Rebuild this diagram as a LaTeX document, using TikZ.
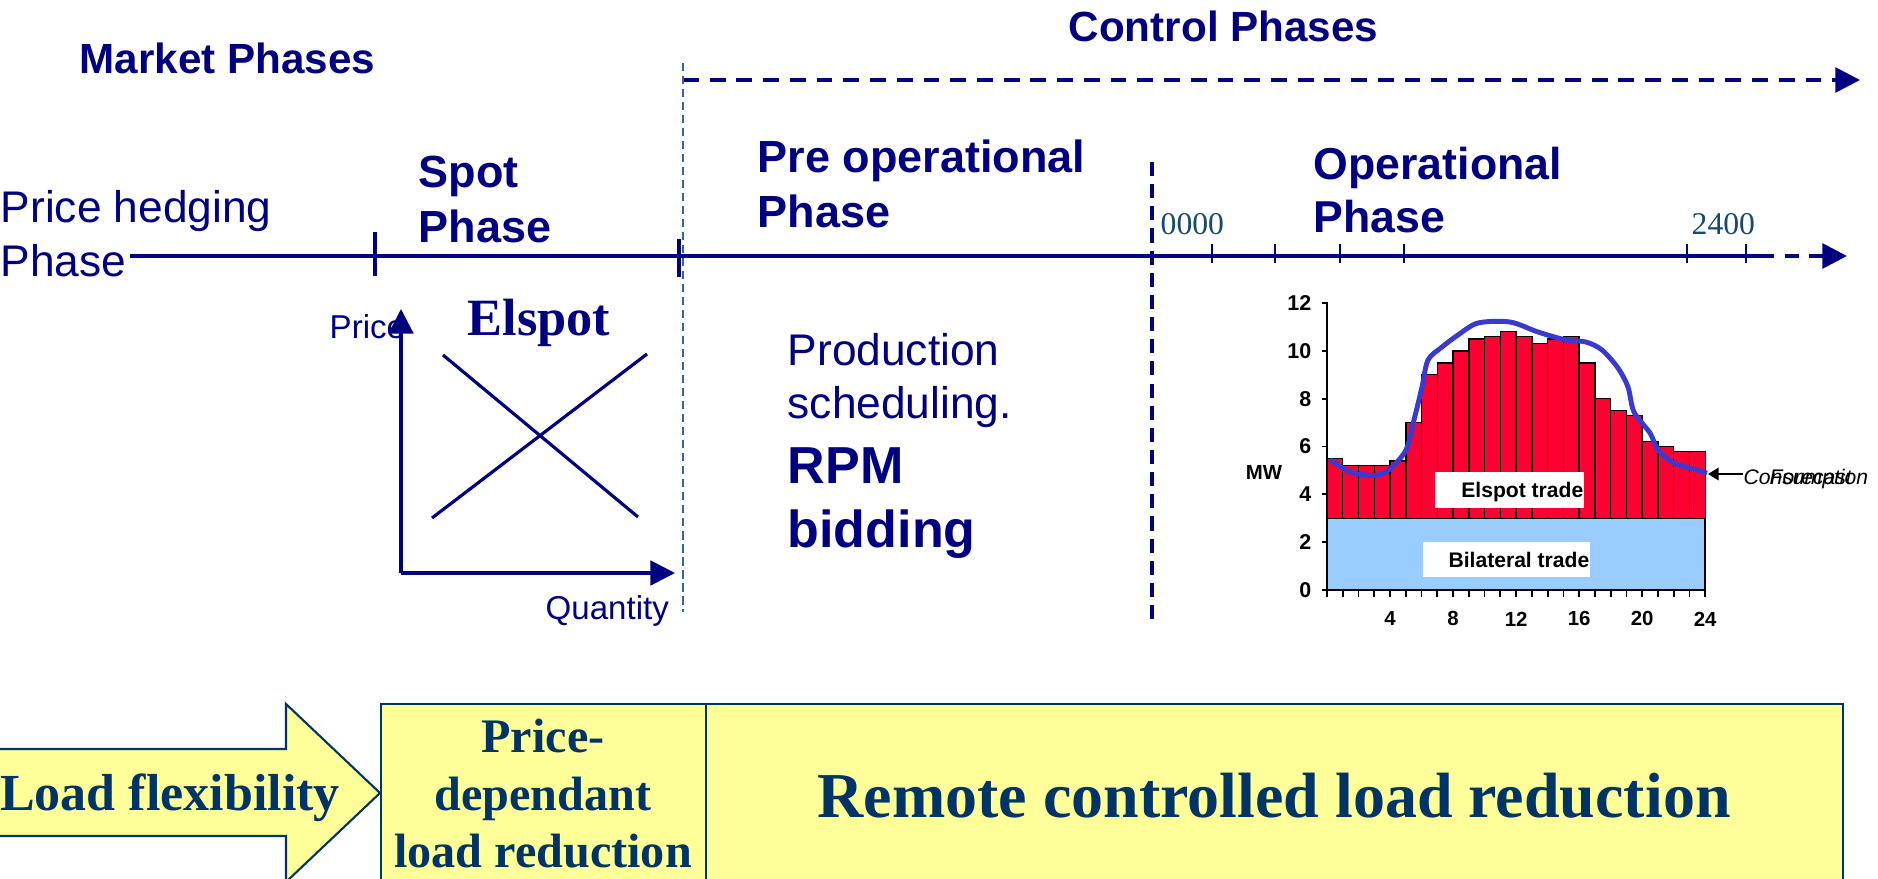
\documentclass[tikz,border=0pt]{standalone}
\usepackage{fontspec}
\setmainfont{Liberation Serif}
\setsansfont{Liberation Sans}
\usetikzlibrary{arrows.meta}
\definecolor{navy}{RGB}{0,0,128}
\definecolor{steel}{RGB}{51,102,153}
\definecolor{hourteal}{RGB}{23,72,110}
\definecolor{deepblue}{RGB}{0,51,102}
\definecolor{paleyellow}{RGB}{255,255,153}
\definecolor{spotred}{RGB}{255,0,51}
\definecolor{bilateral}{RGB}{153,204,255}
\definecolor{loadcurve}{RGB}{58,58,207}
\tikzset{
  phasehead/.style={font=\sffamily\bfseries\fontsize{12.8}{15}\selectfont, text=navy, inner sep=0pt, anchor=base west},
  phaseplain/.style={font=\sffamily\fontsize{12.6}{15}\selectfont, text=navy, inner sep=0pt, anchor=base west},
  hourlabel/.style={font=\fontsize{9}{11}\selectfont, text=hourteal, inner sep=0pt, anchor=base west},
  chartnum/.style={font=\sffamily\bfseries\fontsize{5.8}{7}\selectfont, inner sep=0pt},
  reduction/.style={font=\bfseries\fontsize{13.7}{16}\selectfont, text=deepblue, inner sep=0pt, anchor=base},
  timeline/.style={navy, line width=1.1pt},
  yellowbox/.style={draw=deepblue, fill=paleyellow, line width=0.6pt},
  bigtip/.style={-{Triangle[length=7pt, width=7pt]}}
}
\begin{document}
\begin{tikzpicture}[x=0.01cm, y=-0.01cm]
\useasboundingbox (0,0) rectangle (1878,879);

\node[phasehead, font=\sffamily\bfseries\fontsize{12}{14}\selectfont] (market) at (79,74) {Market Phases};
\node[phasehead, font=\sffamily\bfseries\fontsize{12}{14}\selectfont] (control) at (1068,42) {Control Phases};

\coordinate (ctrlstart) at (683,80);
\coordinate (ctrlend) at (1860,80);
\draw[timeline, dash pattern=on 4.5pt off 3.1pt, bigtip] (ctrlstart) -- (ctrlend);
\coordinate (splittop) at (683,63);
\coordinate (splitbot) at (683,612);
\draw[steel, line width=0.5pt, dash pattern=on 2.3pt off 1.4pt] (splittop) -- (splitbot);
\coordinate (daytop) at (1152,162);
\coordinate (daybot) at (1152,627);
\draw[navy, line width=1.1pt, dash pattern=on 4pt off 2.3pt] (daytop) -- (daybot);

\node[phaseplain] (hedge1) at (0,223) {Price hedging};
\node[phaseplain] (hedge2) at (0,277) {Phase};
\node[phasehead] (spot1) at (418,188) {Spot};
\node[phasehead] (spot2) at (418,243) {Phase};
\node[phasehead] (pre1) at (757,173) {Pre operational};
\node[phasehead] (pre2) at (757,228) {Phase};
\node[phasehead, font=\sffamily\bfseries\fontsize{12.7}{15}\selectfont] (op1) at (1313,180) {Operational};
\node[phasehead, font=\sffamily\bfseries\fontsize{12.7}{15}\selectfont] (op2) at (1313,233) {Phase};
\node[hourlabel] (hour0) at (1160,235) {0000};
\node[hourlabel] (hour24) at (1691,235) {2400};

\coordinate (tlstart) at (130,256);
\coordinate (tlsolid) at (1760,256);
\coordinate (tlend) at (1847,256);
\draw[timeline] (tlstart) -- (tlsolid);
\draw[timeline, dash pattern=on 4pt off 3pt, bigtip] (tlsolid) -- (tlend);
\draw[navy, line width=0.9pt] (375,232) -- (375,276);
\draw[navy, line width=0.9pt] (679,239) -- (679,277);
\foreach \t in {1212,1275,1340,1404,1687,1746}
  \draw[navy, line width=0.4pt] (\t,244) -- (\t,263);

\node[phaseplain, font=\sffamily\fontsize{9.4}{11}\selectfont] (price) at (329,339) {Price};
\node[phaseplain, font=\sffamily\fontsize{9.4}{11}\selectfont] (qty) at (545,619) {Quantity};
\node[phaseplain, font=\bfseries\fontsize{14.9}{17}\selectfont] (elspot) at (467,335) {Elspot};
\coordinate (origin) at (401,573);
\coordinate (ptip) at (401,309);
\coordinate (qtip) at (675,573);
\draw[navy, line width=0.9pt, bigtip] (origin) -- (ptip);
\draw[navy, line width=0.9pt, bigtip] (origin) -- (qtip);
\coordinate (demandtop) at (443,355);
\coordinate (demandbot) at (638,517);
\coordinate (supplybot) at (432,518);
\coordinate (supplytop) at (647,354);
\draw[navy, line width=0.9pt] (demandtop) -- (demandbot);
\draw[navy, line width=0.9pt] (supplybot) -- (supplytop);

\node[phaseplain] (prod1) at (787,366) {Production};
\node[phaseplain] (prod2) at (787,418) {scheduling.};
\node[phasehead, font=\sffamily\bfseries\fontsize{14.8}{17}\selectfont] (rpm1) at (787,483) {RPM};
\node[phasehead, font=\sffamily\bfseries\fontsize{14.8}{17}\selectfont] (rpm2) at (787,547) {bidding};

\begin{scope}[shift={(1327,590)}, x=0.1575cm, y=0.239cm]
  \draw[fill=bilateral, line width=0.5pt] (0,0) rectangle (24,3);
  \foreach \v [count=\h] in {5.5,5.2,5.2,5.2,5.4,7.0,9.0,9.5,10.0,10.5,10.6,10.8,10.6,10.3,10.5,10.6,9.5,8.0,7.5,7.3,6.2,6.0,5.8,5.8}
    \draw[fill=spotred, line width=0.4pt] (\h-1,3) rectangle (\h,\v);
  \draw[line width=0.6pt] (0,0) -- (0,12.05);
  \foreach \k in {0,2,...,12} {
    \draw[line width=0.5pt] (-0.32,\k) -- (0,\k);
    \node[chartnum, font=\sffamily\bfseries\fontsize{6.1}{7}\selectfont, anchor=east] (ylab\k) at (-0.95,\k) {\k};
  }
  \foreach \h in {0,...,24}
    \draw[line width=0.5pt] (\h,0) -- (\h,-0.29);
  \foreach \h in {4,8,...,24}
    \node[chartnum] (xlab\h) at (\h,-1.21) {\h};
\end{scope}
\node[chartnum] (mw) at (1264,472) {MW};
\fill[white] (1435,472) rectangle (1584,508);
\node[chartnum, font=\sffamily\bfseries\fontsize{6}{7}\selectfont, anchor=base east] (spottrade) at (1584,498) {Elspot trade};
\fill[white] (1423,542) rectangle (1590,577);
\node[chartnum, font=\sffamily\bfseries\fontsize{6}{7}\selectfont, anchor=base east] (biltrade) at (1590,567) {Bilateral trade};
\draw[loadcurve, line width=1.4pt] plot[smooth, tension=0.5] coordinates {
  (1330,460) (1350,472) (1366,475) (1378,475) (1390,469) (1406,450) (1414,420)
  (1422,387) (1428,360) (1442,347) (1458,335) (1478,323) (1510,322) (1538,332)
  (1566,340) (1586,342) (1602,350) (1618,368) (1628,387) (1634,412) (1650,433)
  (1658,450) (1674,463) (1690,468) (1707,473)};
\node[chartnum, font=\sffamily\itshape\fontsize{6}{7}\selectfont, anchor=base west] (cons) at (1743,485) {Consumption};
\node[chartnum, font=\sffamily\itshape\fontsize{6}{7}\selectfont, anchor=base west] (fcast) at (1769,485) {Forecast};
\coordinate (consend) at (1708,474);
\draw[line width=0.6pt, -{Triangle[length=3pt, width=3.5pt]}] (1743,474) -- (consend);

\draw[yellowbox] (-5,749) -- (286,749) -- (286,704) -- (380,793) -- (286,882) -- (286,836) -- (-5,836) -- cycle;
\draw[yellowbox] (381,704) rectangle (706,885);
\draw[yellowbox] (706,704) rectangle (1843,885);
\node[reduction, font=\bfseries\fontsize{14.8}{17}\selectfont] (flex) at (170,810) {Load flexibility};
\node[reduction] (pdl1) at (543,752) {Price-};
\node[reduction] (pdl2) at (543,810) {dependant};
\node[reduction] (pdl3) at (543,867) {load reduction};
\node[reduction, font=\bfseries\fontsize{18.2}{21}\selectfont] (remote) at (1274,817) {Remote controlled load reduction};
\end{tikzpicture}
\end{document}
